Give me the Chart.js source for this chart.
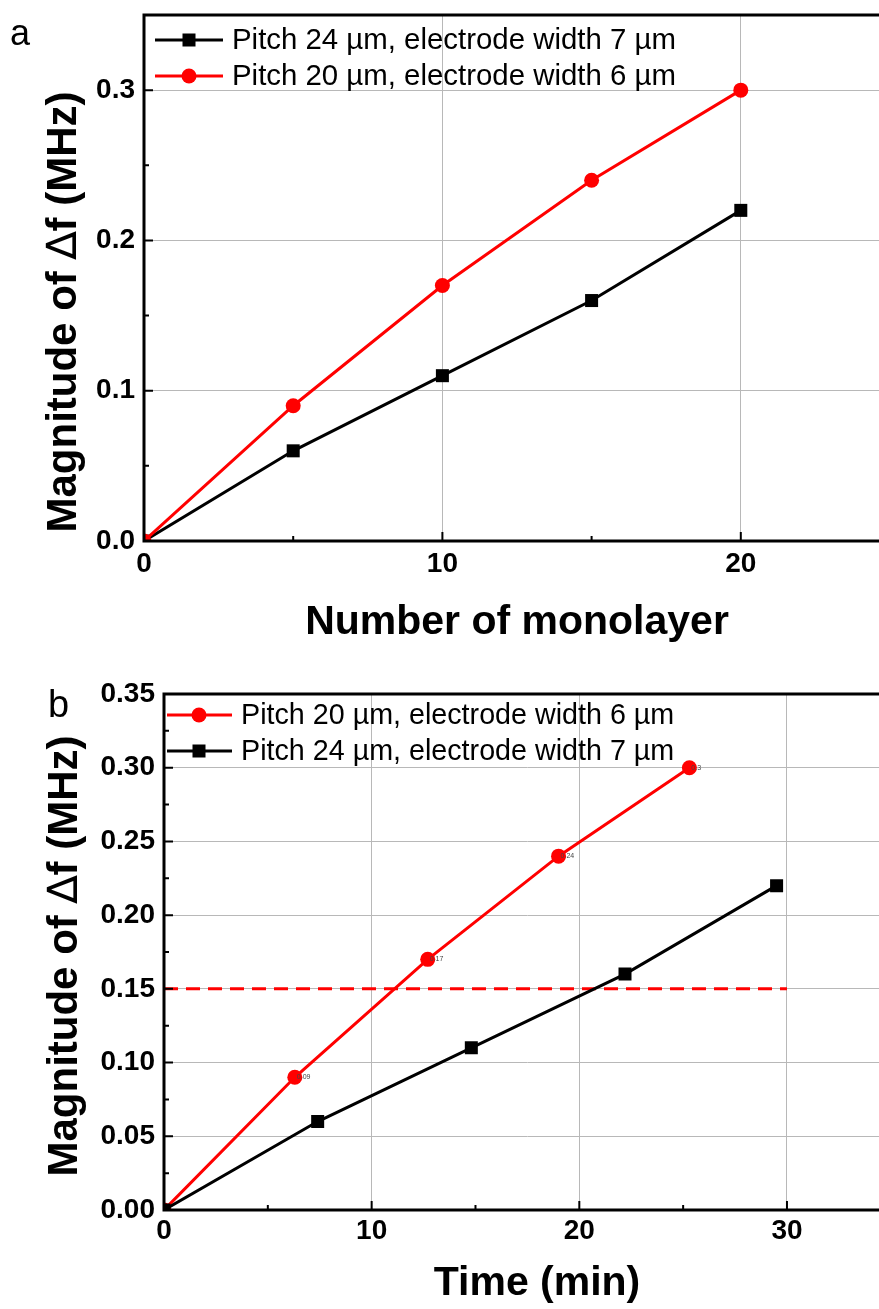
<!DOCTYPE html>
<html><head><meta charset="utf-8">
<script src="https://cdn.jsdelivr.net/npm/chart.js@4.4.1/dist/chart.umd.min.js"></script>
<style>
html,body{margin:0;padding:0;background:#fff;overflow:hidden;width:879px;height:1309px;}
#wa{position:absolute;left:0;top:0;width:900px;height:655px;}
#wb{position:absolute;left:0;top:655px;width:900px;height:654px;}
canvas{display:block}
</style></head><body>
<div id="wa"><canvas id="ca" width="900" height="655"></canvas></div>
<div id="wb"><canvas id="cb" width="900" height="654"></canvas></div>
<script>
// ---------- Panel a data ----------
const monolayersA = [0, 5, 10, 15, 20];
const pitch24A = [0, 0.06, 0.11, 0.16, 0.22];
const pitch20A = [0, 0.09, 0.17, 0.24, 0.30];
const xTicksA = [0, 10, 20];
const xMinorA = [5, 15];
const yTicksA = [0, 0.1, 0.2, 0.3];
const yMinorA = [0.05, 0.15, 0.25];

// ---------- Panel b data ----------
const timePitch20B = [0, 6.3, 12.7, 19.0, 25.3];
const pitch20B = [0, 0.09, 0.17, 0.24, 0.30];
const timePitch24B = [0, 7.4, 14.8, 22.2, 29.5];
const pitch24B = [0, 0.06, 0.11, 0.16, 0.22];
const thresholdX = [0, 30];
const thresholdY = [0.15, 0.15];
const xTicksB = [0, 10, 20, 30];
const xMinorB = [5, 15, 25];
const yTicksB = [0, 0.05, 0.10, 0.15, 0.20, 0.25, 0.30, 0.35];
const yMinorB = [0.025, 0.075, 0.125, 0.175, 0.225, 0.275, 0.325];

const label20 = 'Pitch 20 µm, electrode width 6 µm';
const label24 = 'Pitch 24 µm, electrode width 7 µm';
const yTitleParts = ['Magnitude of ', '∆', 'f (MHz)'];
const xTitleA = 'Number of monolayer';
const xTitleB = 'Time (min)';

const FAM = '"Liberation Sans", Arial, Helvetica, sans-serif';
const RED = '#ff0000', BLACK = '#000000';

function pts(xs, ys) { return xs.map((x, i) => ({ x: x, y: ys[i] })); }

function drawMarker(ctx, style, r, x, y, color) {
  ctx.fillStyle = color;
  ctx.beginPath();
  if (style === 'rect') {
    const s = r * Math.SQRT1_2;
    ctx.rect(x - s, y - s, 2 * s, 2 * s);
  } else {
    ctx.arc(x, y, r, 0, Math.PI * 2);
  }
  ctx.fill();
}

const decor = {
  id: 'decor',
  afterDatasetsDraw(chart, args, o) {
    const ctx = chart.ctx, ca = chart.chartArea;
    const xs = chart.scales.x, ys = chart.scales.y;
    ctx.save();
    // axes frame (left, bottom, top)
    ctx.strokeStyle = '#000';
    ctx.lineWidth = 3;
    ctx.lineCap = 'square';
    ctx.beginPath();
    ctx.moveTo(ca.right + 20, ca.top);
    ctx.lineTo(ca.left, ca.top);
    ctx.lineTo(ca.left, ca.bottom);
    ctx.lineTo(ca.right + 20, ca.bottom);
    ctx.stroke();
    // inward ticks
    ctx.lineWidth = 2;
    ctx.lineCap = 'butt';
    ctx.beginPath();
    const tk = (vals, len, isX) => vals.forEach(v => {
      if (isX) { const p = xs.getPixelForValue(v); ctx.moveTo(p, ca.bottom); ctx.lineTo(p, ca.bottom - len); }
      else { const p = ys.getPixelForValue(v); ctx.moveTo(ca.left, p); ctx.lineTo(ca.left + len, p); }
    });
    tk(o.xMajor, 9, true); tk(o.xMinor, 5, true);
    tk(o.yMajor, 9, false); tk(o.yMinor, 5, false);
    ctx.stroke();
    // small value labels
    if (o.valueLabels) {
      const meta = chart.getDatasetMeta(o.valueLabels);
      const ds = chart.data.datasets[o.valueLabels];
      ctx.font = '7px ' + FAM;
      ctx.fillStyle = '#444';
      ctx.textAlign = 'left';
      ctx.textBaseline = 'middle';
      meta.data.forEach((el, i) => {
        if (i === 0) return;
        ctx.fillText(String(ds.data[i].y), el.x + 2, el.y);
      });
    }
    // legend
    const L = o.legend;
    ctx.font = L.font;
    ctx.textAlign = 'left';
    ctx.textBaseline = 'middle';
    L.items.forEach(it => {
      const ds = chart.data.datasets[it.ds];
      ctx.strokeStyle = ds.borderColor;
      ctx.lineWidth = 3;
      ctx.beginPath();
      ctx.moveTo(L.x1, it.y); ctx.lineTo(L.x2, it.y);
      ctx.stroke();
      drawMarker(ctx, ds.pointStyle, ds.pointRadius, L.mx, it.y, ds.backgroundColor);
      ctx.fillStyle = '#000';
      ctx.fillText(ds.label, L.tx, it.y + 1);
    });
    // free texts (panel letter, axis titles); each text may be made of segments
    o.texts.forEach(t => {
      ctx.save();
      ctx.fillStyle = '#000';
      ctx.textAlign = 'left';
      ctx.textBaseline = 'alphabetic';
      ctx.translate(t.x, t.y);
      if (t.rot) ctx.rotate(t.rot);
      const segs = t.segs || [{ text: t.text, font: t.font }];
      let total = 0;
      segs.forEach(s => { ctx.font = s.font; s.w = ctx.measureText(s.text).width; total += s.w; });
      let cx = t.align === 'center' ? -total / 2 : 0;
      segs.forEach(s => { ctx.font = s.font; ctx.fillText(s.text, cx, 0); cx += s.w; });
      ctx.restore();
    });
    ctx.restore();
  }
};

function scaleOpts(ticksArr, min, max, fit, isX, digits, pad) {
  return {
    type: 'linear', min: min, max: max,
    afterFit(s) {
      if (isX) s.height = fit; else s.width = fit;
      s.paddingTop = 0; s.paddingBottom = 0; s.paddingLeft = 0; s.paddingRight = 0;
    },
    afterBuildTicks(s) { s.ticks = ticksArr.map(v => ({ value: v })); },
    grid: { color: '#b8b8b8', lineWidth: 1, drawTicks: false },
    border: { display: false },
    ticks: {
      font: { family: FAM, size: 28, weight: 'bold' }, color: '#000', padding: pad,
      maxRotation: 0, autoSkip: false,
      callback: v => digits == null ? String(v) : Number(v).toFixed(digits)
    }
  };
}

function yTitleSegs() {
  return [
    { text: yTitleParts[0], font: 'bold 42px ' + FAM },
    { text: yTitleParts[1], font: '42px "DejaVu Sans", ' + FAM },
    { text: yTitleParts[2], font: 'bold 42px ' + FAM }
  ];
}

// ---------- Chart a ----------
new Chart(document.getElementById('ca'), {
  type: 'line',
  data: {
    datasets: [
      { label: label20, data: pts(monolayersA, pitch20A), borderColor: RED, backgroundColor: RED,
        borderWidth: 3, pointStyle: 'circle', pointRadius: 7.5, pointBorderWidth: 0, clip: 0, tension: 0 },
      { label: label24, data: pts(monolayersA, pitch24A), borderColor: BLACK, backgroundColor: BLACK,
        borderWidth: 3, pointStyle: 'rect', pointRadius: 9.2, pointBorderWidth: 0, clip: 0, tension: 0 }
    ]
  },
  options: {
    responsive: false, animation: false, devicePixelRatio: 1,
    layout: { padding: { top: 15, right: 10, left: 0, bottom: 0 } },
    plugins: {
      legend: { display: false }, tooltip: { enabled: false },
      decor: {
        xMajor: xTicksA, xMinor: xMinorA, yMajor: yTicksA, yMinor: yMinorA,
        legend: { font: '29.4px ' + FAM, x1: 155, x2: 223, mx: 189, tx: 232, items: [{ ds: 1, y: 40 }, { ds: 0, y: 76 }] },
        texts: [
          { text: 'a', x: 10, y: 45, font: '36px ' + FAM },
          { segs: yTitleSegs(), x: 76, y: 312, rot: -Math.PI / 2, align: 'center' },
          { text: xTitleA, x: 517, y: 634, align: 'center', font: 'bold 41px ' + FAM }
        ]
      }
    },
    scales: {
      x: scaleOpts(xTicksA, 0, 25, 114, true, null, 6),
      y: scaleOpts(yTicksA, 0, 0.35, 144, false, 1, 9)
    }
  },
  plugins: [decor]
});

// ---------- Chart b ----------
new Chart(document.getElementById('cb'), {
  type: 'line',
  data: {
    datasets: [
      { label: label24, data: pts(timePitch24B, pitch24B), borderColor: BLACK, backgroundColor: BLACK,
        borderWidth: 3, pointStyle: 'rect', pointRadius: 9.2, pointBorderWidth: 0, clip: 0, tension: 0 },
      { label: label20, data: pts(timePitch20B, pitch20B), borderColor: RED, backgroundColor: RED,
        borderWidth: 3, pointStyle: 'circle', pointRadius: 7.5, pointBorderWidth: 0, clip: 0, tension: 0 },
      { label: 'threshold', data: pts(thresholdX, thresholdY), borderColor: RED, backgroundColor: RED,
        borderWidth: 3, borderDash: [14, 8], pointRadius: 0, clip: 0, tension: 0 }
    ]
  },
  options: {
    responsive: false, animation: false, devicePixelRatio: 1,
    layout: { padding: { top: 39, right: 9, left: 0, bottom: 0 } },
    plugins: {
      legend: { display: false }, tooltip: { enabled: false },
      decor: {
        xMajor: xTicksB, xMinor: xMinorB, yMajor: yTicksB, yMinor: yMinorB,
        valueLabels: 1,
        legend: { font: '28.7px ' + FAM, x1: 167, x2: 232, mx: 199, tx: 241, items: [{ ds: 1, y: 60 }, { ds: 0, y: 96 }] },
        texts: [
          { text: 'b', x: 48, y: 62, font: '38px ' + FAM },
          { segs: yTitleSegs(), x: 77, y: 301, rot: -Math.PI / 2, align: 'center' },
          { text: xTitleB, x: 537, y: 640, align: 'center', font: 'bold 41px ' + FAM }
        ]
      }
    },
    scales: {
      x: scaleOpts(xTicksB, 0, 35, 99, true, null, 4),
      y: scaleOpts(yTicksB, 0, 0.35, 164, false, 2, 9)
    }
  },
  plugins: [decor]
});
</script>
</body></html>
